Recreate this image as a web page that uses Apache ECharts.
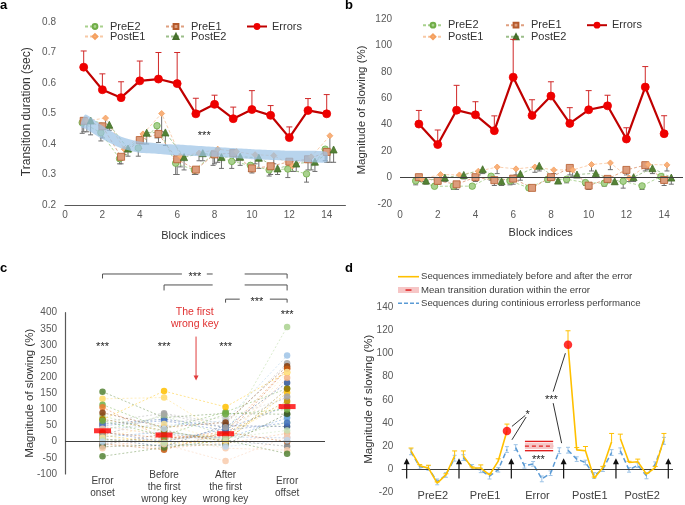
<!DOCTYPE html>
<html><head><meta charset="utf-8">
<script src="https://cdn.jsdelivr.net/npm/echarts@6/dist/echarts.min.js"></script>
<style>html,body{margin:0;padding:0;background:#fff}#c{width:685px;height:505px}</style>
</head><body><div id="c"></div>
<script>
// ================= DATA =================
const blocks = [1,2,3,4,5,6,7,8,9,10,11,12,13,14];
const xTicks = [0,2,4,6,8,10,12,14];
// ---- panel a : transition duration (sec) ----
const aErrors   = [0.652,0.578,0.552,0.607,0.613,0.598,0.499,0.530,0.483,0.513,0.494,0.421,0.510,0.499];
const aErrorsUp = [0.705,0.630,0.604,0.672,0.700,0.700,0.550,0.560,0.521,0.575,0.526,0.456,0.549,0.562];
const aPreE2    = [0.470,0.437,0.352,0.387,0.460,0.337,0.315,0.365,0.343,0.330,0.315,0.318,0.302,0.383];
const aPreE2Lo  = [0.435,0.410,0.335,0.360,0.420,0.300,0.300,0.330,0.320,0.310,0.295,0.290,0.275,0.345];
const aPreE1    = [0.476,0.458,0.358,0.413,0.433,0.350,0.316,0.366,0.370,0.320,0.327,0.342,0.350,0.374];
const aPreE1Lo  = [0.440,0.420,0.335,0.385,0.405,0.300,0.300,0.335,0.340,0.305,0.300,0.310,0.315,0.340];
const aPostE1   = [0.476,0.485,0.383,0.433,0.500,0.360,0.370,0.383,0.375,0.365,0.362,0.328,0.358,0.427];
const aPostE1Lo = [0.440,0.450,0.365,0.400,0.440,0.325,0.345,0.340,0.345,0.335,0.335,0.310,0.315,0.340];
const aPostE2   = [0.477,0.463,0.385,0.437,0.438,0.357,0.370,0.357,0.358,0.355,0.320,0.336,0.342,0.382];
const aPostE2Lo = [0.430,0.445,0.360,0.400,0.395,0.315,0.345,0.320,0.330,0.320,0.300,0.310,0.310,0.340];
const aBandX    = [0.85,1.1,2,3,4,5,6,8,10,12,14];
const aBandHi   = [0.470,0.497,0.460,0.424,0.408,0.402,0.398,0.390,0.383,0.378,0.374];
const aBandLo   = [0.455,0.450,0.416,0.386,0.371,0.367,0.362,0.358,0.350,0.345,0.340];
// ---- panel b : magnitude of slowing (%) ----
const bErrors   = [40.5,25,51,47.5,35.5,76,47,61.7,41,51.3,54.3,29.2,68.5,33.2];
const bErrorsUp = [50.8,36,69.8,57.4,46.7,104.6,58.9,72.5,52.9,65.8,62.3,37.7,84,46.8];
const bPreE2    = [-2.5,-6.6,-6.5,-6.5,1,-2.5,-7.8,-1.3,-1.3,-3.8,-4.3,-2.8,-6.3,0.8];
const bPreE2Lo  = [-5.5,-8,-9,-8,-2,-5.5,-9,-3.5,-4,-6,-6.5,-8,-9,-3];
const bPreE1    = [0.3,-2.5,-5.1,0.3,-2,-0.8,-7.8,0.3,7.3,-6.1,-1,5.8,9.4,-1.8];
const bPreE1Lo  = [-2,-5,-9,-3,-6,-5,-9,-2,2,-9,-4,2,5,-6];
const bPostE1   = [-1,2.3,2,4.8,8,6.6,8,5.8,5.8,9.9,11.1,-0.3,9.9,9.6];
const bPostE1Lo = [-3,0,0,2,3,2,4,3,1,5,6,-3,6,5];
const bPostE2   = [-2.3,0,2,6.3,-2.8,2.8,8.9,-2.3,2.3,3.3,-2.8,0.3,7.1,0];
const bPostE2Lo = [-5,-3,-1,3,-6,-2,5,-4,0,0,-5,-3,3,-5];
// ---- panel c : per-participant slowing (%) ----
const cCategories = ['Error\nonset','Before\nthe first\nwrong key','After\nthe first\nwrong key','Error\noffset'];
const cOnset  = [155,133,115,107,80,69,62,55,48,42,36,30,25,20,15,10,6,2,-2,-6,-10,-15,-20,-45,90,70,50,40,28,18,12,5,65,0];
const cBefore = [75,137,40,10,30,157,88,70,20,50,80,0,60,-5,30,-15,5,-20,10,-25,25,-10,15,-18,45,35,65,-8,12,85,55,-3,18,40];
const cAfter  = [88,20,92,30,10,108,55,45,5,65,20,40,75,0,10,50,25,-5,15,30,5,-10,-20,5,60,0,35,-60,18,45,2,12,85,-15];
const cOffset = [85,120,165,228,60,215,243,183,198,267,356,110,136,152,74,47,126,26,12,0,-14,87,-26,-37,234,164,59,15,226,140,216,35,100,5];
const cMeans  = [34,21,25,109];
// ---- panel d : slowing around the error (%) ----
const dSections = ['PreE2','PreE1','Error','PostE1','PostE2'];
const dYellow   = [15.8,2.9,0.9,-12,-5,11.5,  11.5,1,1,-5,7,33,  null,null,null,null,null,null,  107.6,16.7,15.9,-7.8,1.4,23.7,  26.6,5.8,6.4,-4.3,1.4,26];
const dYellowUp = [18.3,3.9,3.4,-11,-4,15.8,  15.8,2,3.7,-4,9,39,  null,null,null,null,null,null,  119.7,18.7,19.6,-6.8,2.4,30.9,  30.3,6.8,8.7,-3.3,2.4,30.9];
const dBlue     = [15,2,1,-11,-5,9.5,  10,2,-1,-6,-0.5,17,  18.7,2.9,4.6,-8.4,-3.5,16,  16.4,8.7,5.8,-5.5,0,14.4,  15.9,-0.6,3.5,-5.8,4.3,24.5];
const dBlueErr  = [2.5,2,2,2.5,2,2.5,  2.5,2,2,2.5,2,2.5,  2.5,2,2,2.5,2,2.5,  2.5,2,2,2.5,2,2.5,  2.5,2,2,2.5,2,3];
const dRedDotIdx = [11,18];
const dErrBandX = [13.56,16.8];
const dErrBandY = [16,20,24];   // lower, mean, upper
const dLegend = ['Sequences immediately before and after the error','Mean transition duration within the error','Sequences during continious errorless performance'];

// ================= STYLE =================
const FONT = 'Liberation Sans, Arial, Helvetica, sans-serif';
const TICK = '#595959';
const TXT = '#333333';
const ST = {
  PreE2:  {symbol:'circle',   size:6.5, fill:'#a9d18e', stroke:'#70ad47', line:'#a9d18e', dash:[3,2]},
  PreE1:  {symbol:'rect',     size:7,   fill:'#dc9c7c', stroke:'#b55a2c', line:'#e0a080', dash:[3,2]},
  PostE1: {symbol:'diamond',  size:6,   fill:'#f8b07a', stroke:'#f4a060', line:'#f8c9a6', dash:[3,2]},
  PostE2: {symbol:'triangle', size:7,   fill:'#548235', stroke:'#456e2b', line:'#9cbf8a', dash:[3,2]},
  Errors: {symbol:'circle',   size:8,   fill:'#ee0000', stroke:'#ee0000', line:'#c00000', lw:2.2}
};
const OFF_A = {PreE2:-0.08, PreE1:0, PostE1:0.17, PostE2:0.37};
const OFF_B = {PreE2:-0.17, PreE1:0, PostE1:0.15, PostE2:0.38};
const subjColors = ['#548235','#ffd966','#70ad47','#ed7d31','#a9d18e','#ffc000','#a5a5a5','#2f5597','#f4b183','#9dc3e6','#a9d18e','#4472c4','#c9c9c9','#ffc000','#5b9bd5','#264478','#bf9000','#f4b183','#8faadc','#c55a11','#7f7f7f','#385723','#f8cbad','#548235','#843c0c','#997300','#4472c4','#f8cbad','#c55a11','#a5a5a5','#ffe699','#c5e0b4','#70ad47','#bdd7ee'];

// ================= BUILDERS =================
function lineSeries(name, g, xs, ys, st, z) {
  return {type:'line', name, xAxisIndex:g, yAxisIndex:g, z:z||3, silent:true,
    data: xs.map((x,i)=>[x, ys[i]]),
    symbol: st.symbol, symbolSize: st.size,
    lineStyle: {color: st.line, width: st.lw||0.9, type: st.dash||'solid'},
    itemStyle: {color: st.fill, borderColor: st.stroke, borderWidth: 0.8}};
}
function errSeries(g, xs, y0, y1, color, cap, both, z) {
  const data = [];
  xs.forEach((x,i)=>{ if (y0[i]!=null && y1[i]!=null) data.push([x, y0[i], y1[i]]); });
  return {type:'custom', xAxisIndex:g, yAxisIndex:g, z:z||2, silent:true, data,
    encode:{x:0, y:[1,2]},
    renderItem:(p, api)=>{
      const x=api.value(0), a=api.coord([x, api.value(1)]), b=api.coord([x, api.value(2)]);
      const s={stroke:color, lineWidth:1};
      const ch=[{type:'line', shape:{x1:a[0],y1:a[1],x2:b[0],y2:b[1]}, style:s},
                {type:'line', shape:{x1:b[0]-cap,y1:b[1],x2:b[0]+cap,y2:b[1]}, style:s}];
      if (both) ch.push({type:'line', shape:{x1:a[0]-cap,y1:a[1],x2:a[0]+cap,y2:a[1]}, style:s});
      return {type:'group', children:ch};
    }};
}
const shift = (arr, o) => arr.map(v=>v+o);
const zeroLine = {silent:true, symbol:'none', label:{show:false}, data:[{yAxis:0}],
  lineStyle:{color:'#404040', width:1.2, type:'solid'}};

const series = [];
// ---- panel a ----
const gray = '#6f6f6f';
[['PreE2',aPreE2,aPreE2Lo],['PreE1',aPreE1,aPreE1Lo],['PostE1',aPostE1,aPostE1Lo],['PostE2',aPostE2,aPostE2Lo]].forEach(([n,v,lo])=>{
  const xs = shift(blocks, OFF_A[n]);
  series.push(errSeries(0, xs, v, lo, gray, 2.5, false, 2));
  series.push(lineSeries(n, 0, xs, v, ST[n], 3));
});
series.push({type:'custom', xAxisIndex:0, yAxisIndex:0, z:4, silent:true,
  data: aBandX.map((x,i)=>[x, aBandLo[i], aBandHi[i]]), encode:{x:0, y:[1,2]},
  renderItem:(p, api)=>{
    if (p.dataIndex!==0) return null;
    const top = aBandX.map((x,i)=>api.coord([x, aBandHi[i]]));
    const bot = aBandX.map((x,i)=>api.coord([x, aBandLo[i]])).reverse();
    return {type:'polygon', shape:{points: top.concat(bot), smooth:0.2}, style:{fill:'rgba(157,195,230,0.72)'}};
  }});
series.push(errSeries(0, blocks, aErrors, aErrorsUp, '#d02828', 3, false, 5));
series.push(lineSeries('Errors', 0, blocks, aErrors, ST.Errors, 6));
// ---- panel b ----
[['PreE2',bPreE2,bPreE2Lo],['PreE1',bPreE1,bPreE1Lo],['PostE1',bPostE1,bPostE1Lo],['PostE2',bPostE2,bPostE2Lo]].forEach(([n,v,lo],k)=>{
  const xs = shift(blocks, OFF_B[n]);
  series.push(errSeries(1, xs, v, lo, gray, 2.5, false, 2));
  const s = lineSeries(n, 1, xs, v, ST[n], 3);
  if (k===0) s.markLine = zeroLine;
  series.push(s);
});
series.push(errSeries(1, blocks, bErrors, bErrorsUp, '#d02828', 3, false, 5));
series.push(lineSeries('Errors', 1, blocks, bErrors, ST.Errors, 6));
// ---- panel c ----
cOnset.forEach((_, i)=>{
  const s = {type:'line', xAxisIndex:2, yAxisIndex:2, z:2, silent:true,
    data:[[1,cOnset[i]],[2,cBefore[i]],[3,cAfter[i]],[4,cOffset[i]]],
    symbol:'circle', symbolSize:6.5,
    lineStyle:{color:subjColors[i], width:0.8, type:[2,2], opacity:0.55},
    itemStyle:{color:subjColors[i], opacity:0.85}};
  if (i===0) s.markLine = zeroLine;
  series.push(s);
});
series.push({type:'scatter', xAxisIndex:2, yAxisIndex:2, z:10, silent:true,
  data: cMeans.map((v,i)=>[i+1, v]), symbol:'rect', symbolSize:[17,5], itemStyle:{color:'#ff0000'}});
// ---- panel d ----
const dX = dYellow.map((_, i)=> Math.floor(i/6)*6 + (i%6) + 0.5);
function dLine(vals){ const out=[]; vals.forEach((v,i)=>{ out.push([dX[i], v]); if (i%6===5) out.push([dX[i]+0.5, null]); }); return out; }
series.push(errSeries(3, dX, dBlue.map((v,i)=>v-dBlueErr[i]), dBlue.map((v,i)=>v+dBlueErr[i]), '#9dc3e6', 2, true, 2));
series.push({type:'line', name:dLegend[2], xAxisIndex:3, yAxisIndex:3, z:3, silent:true, data:dLine(dBlue),
  symbol:'none', connectNulls:false, lineStyle:{color:'#5b9bd5', width:1.5, type:[5,3]}, markLine: zeroLine});
series.push(errSeries(3, dX, dYellow, dYellowUp, '#ffc000', 2.5, false, 4));
series.push({type:'line', name:dLegend[0], xAxisIndex:3, yAxisIndex:3, z:5, silent:true, data:dLine(dYellow),
  symbol:'none', connectNulls:false, lineStyle:{color:'#ffc000', width:1.6}});
series.push({type:'scatter', xAxisIndex:3, yAxisIndex:3, z:6, silent:true,
  data: dRedDotIdx.map(i=>[dX[i], dYellow[i]]), symbol:'circle', symbolSize:8.5, itemStyle:{color:'#ff0000'}});
series.push({type:'custom', name:dLegend[1], xAxisIndex:3, yAxisIndex:3, z:6, silent:true,
  data:[[dErrBandX[0], dErrBandX[1], dErrBandY[0], dErrBandY[1], dErrBandY[2]]], encode:{x:[0,1], y:[2,3,4]},
  renderItem:(p, api)=>{
    const x0=api.value(0), x1=api.value(1);
    const lo=api.coord([x0, api.value(2)]), mid=api.coord([x0, api.value(3)]), hi=api.coord([x0, api.value(4)]);
    const xe=api.coord([x1, api.value(3)])[0];
    return {type:'group', children:[
      {type:'rect', shape:{x:lo[0], y:mid[1]-3, width:xe-lo[0], height:6}, style:{fill:'#f6c6c6'}},
      {type:'line', shape:{x1:lo[0], y1:mid[1], x2:xe, y2:mid[1]}, style:{stroke:'#e02020', lineWidth:1.2, lineDash:[4,3]}},
      {type:'line', shape:{x1:lo[0], y1:hi[1], x2:xe, y2:hi[1]}, style:{stroke:'#e02020', lineWidth:1.4}},
      {type:'line', shape:{x1:lo[0], y1:lo[1], x2:xe, y2:lo[1]}, style:{stroke:'#e02020', lineWidth:1.4}}
    ]};
  }});

// ================= AXES =================
const noSplit = {show:false};
const lbl = (o)=>Object.assign({fontSize:10, color:TICK, fontFamily:FONT}, o);
const option = {
  animation:false, backgroundColor:'#fff',
  textStyle:{fontFamily:FONT},
  grid:[
    {left:65, top:22, width:280.4, height:183},
    {left:400, top:19, width:283, height:185},
    {left:65, top:312.7, width:260, height:161.3},
    {left:401.7, top:307.3, width:271.3, height:185}
  ],
  xAxis:[
    {gridIndex:0, type:'value', min:0, max:15, splitLine:noSplit, axisTick:{show:false},
      axisLine:{show:true, onZero:false, lineStyle:{color:'#595959', width:1.2}},
      axisLabel:lbl({customValues:xTicks, margin:10, verticalAlign:'middle'})},
    {gridIndex:1, type:'value', min:0, max:15, splitLine:noSplit, axisTick:{show:false},
      axisLine:{show:false, onZero:false},
      axisLabel:lbl({customValues:xTicks, margin:11, verticalAlign:'middle'})},
    {gridIndex:2, type:'value', min:0.39, max:4.616, splitLine:noSplit, axisTick:{show:false},
      axisLine:{show:false, onZero:false},
      axisLabel:lbl({customValues:[1,2,3,4], formatter:v=>cCategories[Math.round(v)-1]||'', margin:13, verticalAlign:'middle', lineHeight:12, color:'#404040'})},
    {gridIndex:3, type:'value', min:-0.57, max:30.54, splitLine:noSplit, axisTick:{show:false},
      axisLine:{show:false, onZero:false},
      axisLabel:lbl({customValues:[3,9,15,21,27], formatter:v=>dSections[Math.round((v-3)/6)]||'', margin:3.4, verticalAlign:'middle', fontSize:11, color:'#404040'})}
  ],
  yAxis:[
    {gridIndex:0, type:'value', min:0.2, max:0.8, interval:0.1, splitLine:noSplit, axisTick:{show:false},
      axisLine:{show:false, onZero:false}, axisLabel:lbl({margin:9, formatter:v=>v.toFixed(1)})},
    {gridIndex:1, type:'value', min:-20, max:120, interval:20, splitLine:noSplit, axisTick:{show:false},
      axisLine:{show:false, onZero:false}, axisLabel:lbl({margin:8})},
    {gridIndex:2, type:'value', min:-100, max:400, interval:50, splitLine:noSplit, axisTick:{show:false},
      axisLine:{show:true, onZero:false, lineStyle:{color:'#595959', width:1.2}}, axisLabel:lbl({margin:8})},
    {gridIndex:3, type:'value', min:-20, max:140, interval:20, splitLine:noSplit, axisTick:{show:false},
      axisLine:{show:false, onZero:false}, axisLabel:lbl({margin:8.4})}
  ],
  legend: [],
  series
};
// legends for a and b (one component per entry)
const legPos = [
  ['PreE2',84,21],['PreE1',165,21],['Errors',246,21],['PostE1',84,31],['PostE2',165,31],
  ['PreE2',422,19.7],['PreE1',505,19.7],['Errors',586,19.7],['PostE1',422,31.3],['PostE2',505,31.3]
];
legPos.forEach(([n,l,t])=>option.legend.push({left:l, top:t, padding:0, itemWidth:20, itemHeight:6,
  selectedMode:false, data:[n], textStyle:{fontSize:11, color:TXT, fontFamily:FONT}}));

const chart = echarts.init(document.getElementById('c'), null, {renderer:'canvas'});
chart.setOption(option);

// ================= ANNOTATIONS =================
const P = (g, x, y) => chart.convertToPixel({gridIndex:g}, [x, y]);
const G = [];
function txt(x, y, text, o) {
  o = o||{};
  G.push({type:'text', x, y, rotation:o.rot||0, z:100, silent:true,
    style:{text, fontSize:o.fs||11, fontFamily:FONT, fontWeight:o.fw||'normal', fill:o.color||TXT,
      align:o.align||'center', textAlign:o.align||'center', verticalAlign:'middle', textVerticalAlign:'middle', lineHeight:o.lh}});
}
function seg(x1,y1,x2,y2,color,w,dash){
  G.push({type:'line', z:100, silent:true, shape:{x1,y1,x2,y2}, style:{stroke:color||'#404040', lineWidth:w||1, lineDash:dash||null}});
}
function upArrow(x, yb, yt, color, w, hw, hl){
  seg(x, yb, x, yt+hl-1, color, w);
  G.push({type:'polygon', z:100, silent:true, shape:{points:[[x-hw,yt+hl],[x+hw,yt+hl],[x,yt]]}, style:{fill:color}});
}
function downArrow(x, yt, yb, color, w, hw, hl){
  seg(x, yt, x, yb-hl+1, color, w);
  G.push({type:'polygon', z:100, silent:true, shape:{points:[[x-hw,yb-hl],[x+hw,yb-hl],[x,yb]]}, style:{fill:color}});
}
const star = (g, x, y, s) => { const p = P(g, x, y); txt(p[0], p[1]+2.5, s||'***', {fs:11, color:'#222'}); };

// panel letters
txt(0, 5.5, 'a', {fs:13, fw:'bold', align:'left', color:'#000'});
txt(345, 5.5, 'b', {fs:13, fw:'bold', align:'left', color:'#000'});
txt(0, 268.5, 'c', {fs:13, fw:'bold', align:'left', color:'#000'});
txt(345, 268.5, 'd', {fs:13, fw:'bold', align:'left', color:'#000'});
// axis titles
txt(193.3, 236, 'Block indices', {fs:11});
txt(540.7, 233.3, 'Block indices', {fs:11});
txt(26.7, 111.7, 'Transition duration (sec)', {fs:12, rot:Math.PI/2});
txt(361.7, 110, 'Magnitude of slowing (%)', {fs:11.5, rot:Math.PI/2});
txt(30, 393.3, 'Magnitude of slowing (%)', {fs:11.5, rot:Math.PI/2});
txt(369.3, 399.2, 'Magnitude of slowing (%)', {fs:11.5, rot:Math.PI/2});

// panel a
star(0, 7.45, 0.435);
// panel c significance
[1,2,3].forEach(i=>star(2, i, 300));
star(2, 4, 400);
const br = (y, pieces, drops, dropLen) => {
  pieces.forEach(([x1,x2])=>{ const a=P(2,x1,y), b=P(2,x2,y); seg(a[0],a[1],b[0],b[1],'#505050',1); });
  drops.forEach(x=>{ const a=P(2,x,y); seg(a[0],a[1],a[0],a[1]+dropLen,'#505050',1); });
};
br(520, [[1,2.29],[2.695,2.79],[3.31,4]], [1,4], 4.5);
br(486, [[2,2.79],[3.31,4]], [2,4], 5.5);
br(442, [[3,3.23],[3.72,4]], [3,4], 3.5);
star(2, 2.5, 520);
star(2, 3.51, 442);
{ const p = P(2, 2.5, 383); txt(p[0], p[1], 'The first\nwrong key', {fs:10.5, color:'#e03030', lh:12}); }
{ const a = P(2, 2.52, 326), b = P(2, 2.52, 190); downArrow(a[0], a[1], b[1], '#e03c3c', 1, 2.5, 5); }

// panel d arrows and annotations
[0,6,12,18,24,30].forEach(x=>{ const a=P(3,x,-8), b=P(3,x,9.5); upArrow(a[0], a[1], b[1], '#111', 1.2, 3, 6); });
const dl = (x1,y1,x2,y2)=>{ const a=P(3,x1,y1), b=P(3,x2,y2); seg(a[0],a[1],b[0],b[1],'#333',1); };
dl(13.6,46.5,12.07,37); dl(13.7,45.1,12.07,25.4);
dl(16.8,67.1,18.2,100.3); dl(16.8,57.1,17.77,22.5);
star(3, 13.88, 49.4, '*');
star(3, 16.6, 62.3);
star(3, 15.1, 10.3);
// panel d legend (graphic)
seg(398, 276.7, 419, 276.7, '#ffc000', 1.6);
txt(421, 276.7, dLegend[0], {fs:9.6, align:'left', color:'#404040'});
G.push({type:'rect', z:100, silent:true, shape:{x:398, y:287, width:21, height:6}, style:{fill:'#f6c6c6'}});
G.push({type:'rect', z:101, silent:true, shape:{x:405.5, y:289.3, width:6, height:1.5}, style:{fill:'#e02020'}});
txt(421, 290, dLegend[1], {fs:9.6, align:'left', color:'#404040'});
seg(398, 303.3, 419, 303.3, '#5b9bd5', 1.4, [4,2]);
txt(421, 303.3, dLegend[2], {fs:9.6, align:'left', color:'#404040'});

chart.setOption({graphic: G});
</script></body></html>
